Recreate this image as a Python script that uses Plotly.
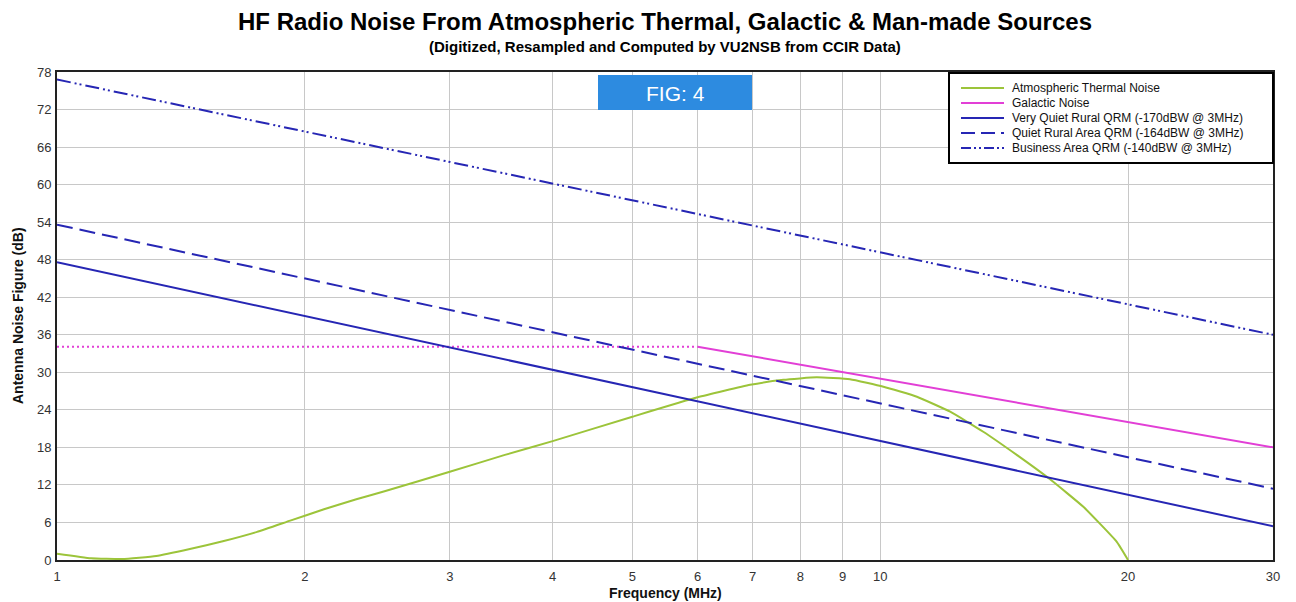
import plotly.graph_objects as go

# Frequency axis ticks (MHz)
tick_freqs = [1, 2, 3, 4, 5, 6, 7, 8, 9, 10, 20, 30]
tick_labels = ["1", "2", "3", "4", "5", "6", "7", "8", "9", "10", "20", "30"]

# Atmospheric thermal noise (dB)
atm_freq = [1.0, 1.1, 1.2, 1.32, 1.45, 1.59, 1.75, 1.92, 2.11, 2.31, 2.5, 3.0, 3.5, 4.0, 5.0,
            6.0, 6.95, 7.63, 8.37, 9.19, 10.09, 11.08, 12.16, 13.34, 14.65, 16.08,
            17.65, 19.38, 20.0]
atm_noise = [1.0, 0.27, 0.16, 0.64, 1.76, 3.0, 4.5, 6.3, 8.1, 9.7, 11.0, 14.1, 16.8, 19.0, 22.9,
             26.0, 28.0, 28.8, 29.2, 28.9, 27.7, 26.1, 23.7, 20.5, 16.8, 12.9,
             8.5, 2.9, 0.0]

# Galactic noise: solid above 6 MHz, flat dotted extension below
gal_freq = [6, 30]
gal_noise = [34.1, 18.0]
gal_ext_freq = [1, 6]
gal_ext_noise = [34.1, 34.1]

# Man-made noise (straight lines on log-frequency axis)
qrm_freq = [1, 30]
very_quiet_rural = [47.6, 5.4]
quiet_rural = [53.6, 11.4]
business = [76.8, 36.0]

legend_names = [
    "Atmospheric Thermal Noise",
    "Galactic Noise",
    "Very Quiet Rural QRM (-170dBW @ 3MHz)",
    "Quiet Rural Area QRM (-164dBW @ 3MHz)",
    "Business Area QRM (-140dBW @ 3MHz)",
]

GREEN = "#9cc43a"
MAGENTA = "#e23fd6"
BLUE = "#2626b4"
DASH_LONG = "16px,7px"
DASH_DDOT = "14px,4px,2px,3px,2px,4px"

fig = go.Figure()
fig.add_trace(go.Scatter(x=atm_freq, y=atm_noise, mode="lines",
                         line=dict(color=GREEN, width=2, shape="spline", smoothing=0.4),
                         name=legend_names[0]))
fig.add_trace(go.Scatter(x=gal_ext_freq, y=gal_ext_noise, mode="lines",
                         line=dict(color=MAGENTA, width=2, dash="2px,3px"),
                         name=legend_names[1] + " (extension)"))
fig.add_trace(go.Scatter(x=gal_freq, y=gal_noise, mode="lines",
                         line=dict(color=MAGENTA, width=2), name=legend_names[1]))
fig.add_trace(go.Scatter(x=qrm_freq, y=very_quiet_rural, mode="lines",
                         line=dict(color=BLUE, width=2), name=legend_names[2]))
fig.add_trace(go.Scatter(x=qrm_freq, y=quiet_rural, mode="lines",
                         line=dict(color=BLUE, width=2, dash=DASH_LONG), name=legend_names[3]))
fig.add_trace(go.Scatter(x=qrm_freq, y=business, mode="lines",
                         line=dict(color=BLUE, width=2, dash=DASH_DDOT), name=legend_names[4]))

W, H = 1296, 602
ML, MR, MT, MB = 57, 23, 72, 42
pw, ph = W - ML - MR, H - MT - MB


def px(x):
    return (x - ML) / pw


def py(y):
    return 1 - (y - MT) / ph


TITLE_FONT = "Liberation Sans Narrow, Arial Narrow, Liberation Sans, Arial, sans-serif"
BODY_FONT = "Liberation Sans, Arial, sans-serif"

shapes = []
annotations = []

# Legend box drawn in paper coordinates
shapes.append(dict(type="rect", xref="paper", yref="paper",
                   x0=px(949), x1=px(1273), y0=py(163), y1=py(73),
                   line=dict(color="black", width=2), fillcolor="white", layer="above"))
legend_styles = [
    dict(color=GREEN, width=2),
    dict(color=MAGENTA, width=2),
    dict(color=BLUE, width=2),
    dict(color=BLUE, width=2, dash="14px,6px"),
    dict(color=BLUE, width=2, dash="10px,3px,2px,3px,2px,3px"),
]
for i, (name, st) in enumerate(zip(legend_names, legend_styles)):
    yy = 88 + 15 * i
    shapes.append(dict(type="line", xref="paper", yref="paper",
                       x0=px(961), x1=px(1004), y0=py(yy), y1=py(yy),
                       line=st, layer="above"))
    annotations.append(dict(xref="paper", yref="paper", x=px(1010), y=py(yy),
                            xanchor="left", yanchor="middle", showarrow=False,
                            text=name, font=dict(family=BODY_FONT, size=12, color="#111")))

# FIG label
shapes.append(dict(type="rect", xref="paper", yref="paper",
                   x0=px(598), x1=px(752), y0=py(110), y1=py(75),
                   line=dict(width=0), fillcolor="#2d8be0", layer="above"))
annotations.append(dict(xref="paper", yref="paper", x=px(675), y=py(93),
                        xanchor="center", yanchor="middle", showarrow=False,
                        text="FIG: 4", font=dict(family=BODY_FONT, size=21, color="white")))

# Titles
annotations.append(dict(xref="paper", yref="paper", x=px(665), y=py(22),
                        xanchor="center", yanchor="middle", showarrow=False,
                        text="<b>HF Radio Noise From Atmospheric Thermal, Galactic &amp; Man-made Sources</b>",
                        font=dict(family=TITLE_FONT, size=24, color="black")))
annotations.append(dict(xref="paper", yref="paper", x=px(665), y=py(47),
                        xanchor="center", yanchor="middle", showarrow=False,
                        text="<b>(Digitized, Resampled and Computed by VU2NSB from CCIR Data)</b>",
                        font=dict(family=TITLE_FONT, size=15, color="black")))

# Axis titles
annotations.append(dict(xref="paper", yref="paper", x=px(665), y=py(593),
                        xanchor="center", yanchor="middle", showarrow=False,
                        text="<b>Frequency (MHz)</b>",
                        font=dict(family=BODY_FONT, size=14, color="#111")))
annotations.append(dict(xref="paper", yref="paper", x=px(18), y=py(316),
                        xanchor="center", yanchor="middle", showarrow=False, textangle=-90,
                        text="<b>Antenna Noise Figure (dB)</b>",
                        font=dict(family=BODY_FONT, size=14, color="#111")))

fig.update_layout(
    width=W, height=H,
    margin=dict(l=ML, r=MR, t=MT, b=MB),
    paper_bgcolor="white", plot_bgcolor="white",
    showlegend=False,
    shapes=shapes, annotations=annotations,
    font=dict(family=BODY_FONT, size=12, color="#333"),
)
fig.update_xaxes(type="log", range=[0, 1.4771213], tickvals=tick_freqs, ticktext=tick_labels,
                 showgrid=True, gridcolor="#c8c8c8", gridwidth=1,
                 showline=True, linecolor="#222", linewidth=2, mirror=True,
                 ticks="outside", ticklen=3, tickcolor="rgba(0,0,0,0)",
                 tickfont=dict(size=13, color="#333"),
                 automargin=False, zeroline=False)
fig.update_yaxes(range=[0, 78], dtick=6, tick0=0,
                 showgrid=True, gridcolor="#c8c8c8", gridwidth=1,
                 showline=True, linecolor="#222", linewidth=2, mirror=True,
                 ticks="outside", ticklen=1, tickcolor="rgba(0,0,0,0)",
                 tickfont=dict(size=13, color="#333"),
                 automargin=False, zeroline=False)

fig.write_html("out.html")
